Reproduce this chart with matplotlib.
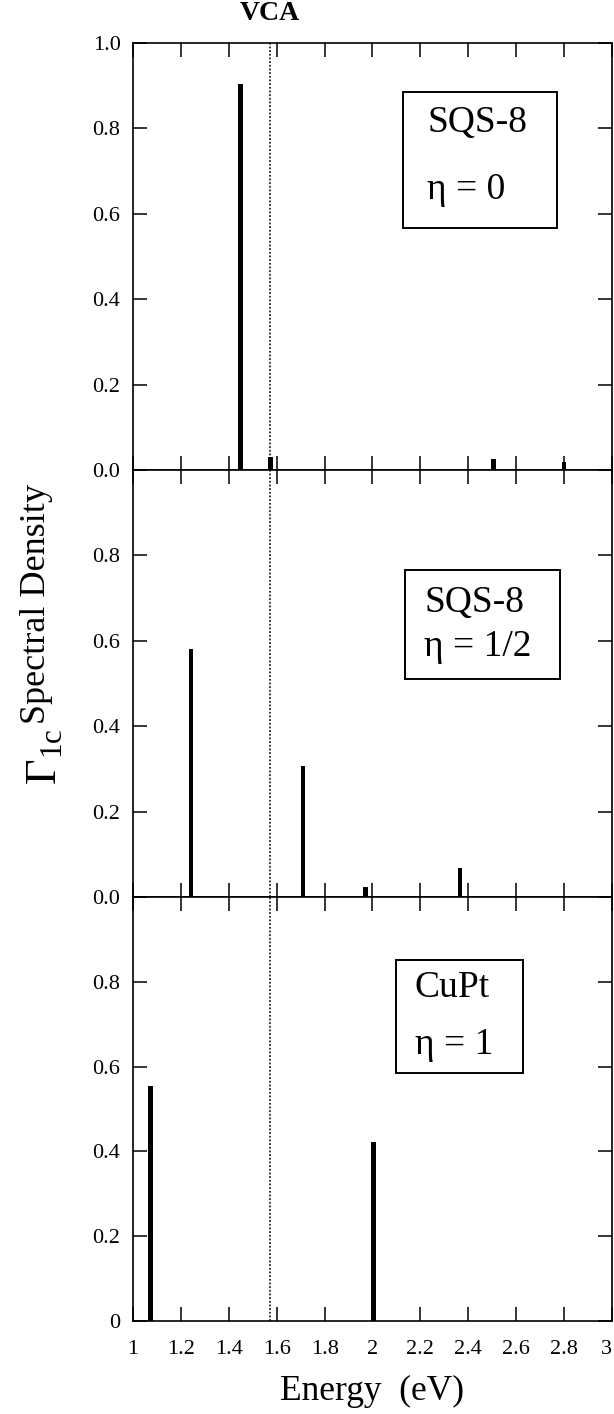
import matplotlib
matplotlib.use("Agg")
import matplotlib.pyplot as plt
from matplotlib.patches import Rectangle
from matplotlib.ticker import FixedLocator, FixedFormatter

plt.rcParams["font.family"] = ["Liberation Serif", "DejaVu Serif"]
plt.rcParams["mathtext.fontset"] = "custom"
plt.rcParams["mathtext.rm"] = "Liberation Serif"
plt.rcParams["mathtext.it"] = "Liberation Serif:italic"

# spectral peaks: energy (eV) and Gamma_1c weight, one set per panel
e_eta0 = [1.45, 1.575, 2.505, 2.80]
w_eta0 = [0.905, 0.030, 0.025, 0.018]
e_eta_half = [1.243, 1.709, 1.971, 2.366]
w_eta_half = [0.580, 0.307, 0.023, 0.068]
e_cupt = [1.073, 2.005]
w_cupt = [0.555, 0.422]
vca_energy = 1.57

panel_names = ["SQS-8", "SQS-8", "CuPt"]
panel_eta = ["η = 0", "η = 1/2", "η = 1"]

x_ticks = [1, 1.2, 1.4, 1.6, 1.8, 2, 2.2, 2.4, 2.6, 2.8, 3]
x_labels = ["1", "1.2", "1.4", "1.6", "1.8", "2", "2.2", "2.4", "2.6", "2.8", "3"]
y_ticks = [0, 0.2, 0.4, 0.6, 0.8, 1.0]
y_labels_top = ["0.0", "0.2", "0.4", "0.6", "0.8", "1.0"]
y_labels_mid = ["0.0", "0.2", "0.4", "0.6", "0.8", ""]
y_labels_bot = ["0", "0.2", "0.4", "0.6", "0.8", ""]

fig = plt.figure(figsize=(6.14, 14.14), dpi=100)
L, W = 0.2166, 0.7801
rects = [(L, 0.6676, W, 0.3020), (L, 0.3656, W, 0.3020), (L, 0.0658, W, 0.2998)]
# box frame (x0, y0, x1, y1) and text rows, axes fractions
boxes = [(0.564, 0.567, 0.885, 0.885), (0.568, 0.510, 0.891, 0.766), (0.550, 0.585, 0.815, 0.851)]
text_x = [0.614, 0.608, 0.588]
text_y = [(0.814, 0.656), (0.689, 0.586), (0.785, 0.651)]

energies = [e_eta0, e_eta_half, e_cupt]
weights = [w_eta0, w_eta_half, w_cupt]
ylabs = [y_labels_top, y_labels_mid, y_labels_bot]

axes = []
for i in range(3):
    ax = fig.add_axes(rects[i], sharex=axes[0] if axes else None)
    axes.append(ax)
    ax.bar(energies[i], weights[i], width=0.019, color="black", edgecolor="none", zorder=3)
    ax.axvline(vca_energy, color="black", lw=1.1, ls=(0, (1.2, 1.2)), zorder=2)
    ax.set_xlim(1, 3)
    ax.set_ylim(0, 1.0)
    ax.xaxis.set_major_locator(FixedLocator(x_ticks))
    ax.yaxis.set_major_locator(FixedLocator(y_ticks))
    ax.yaxis.set_major_formatter(FixedFormatter(ylabs[i]))
    ax.tick_params(direction="in", length=10, width=1.1, top=True, right=True,
                   labelsize=16, pad=9)
    for s in ax.spines.values():
        s.set_linewidth(1.2)
    if i < 2:
        ax.tick_params(labelbottom=False)
    else:
        ax.xaxis.set_major_formatter(FixedFormatter(x_labels))
        ax.tick_params(axis="x", pad=14)
        ax.set_xlabel("Energy  (eV)", fontsize=25.5, labelpad=11)

    x0, y0, x1, y1 = boxes[i]
    ax.add_patch(Rectangle((x0, y0), x1 - x0, y1 - y0, transform=ax.transAxes,
                           fill=False, ec="black", lw=1.4, zorder=4))
    ax.text(text_x[i], text_y[i][0], panel_names[i], transform=ax.transAxes,
            fontsize=27, ha="left", va="center", zorder=5)
    ax.text(text_x[i], text_y[i][1], panel_eta[i], transform=ax.transAxes,
            fontsize=27, ha="left", va="center", zorder=5)

# last x label sits at the right edge of the page
fig.canvas.draw()
axes[2].get_xticklabels()[-1].set_ha("right")

# VCA label above the dotted line
axes[0].annotate("VCA", xy=(vca_energy, 1.0), xycoords="data",
                 xytext=(0, 12), textcoords="offset points",
                 ha="center", va="bottom", fontsize=20, fontweight="bold")

# y label: Gamma_1c  Spectral Density
H = 1414.0
fig.text(56 / 614, 1 - 785 / H, r"$\Gamma_{\mathrm{1c}}$", rotation=90, rotation_mode="anchor",
         ha="left", va="baseline", fontsize=32)
fig.text(45 / 614, 1 - 724 / H, "Spectral Density", rotation=90, rotation_mode="anchor",
         ha="left", va="baseline", fontsize=26)

fig.savefig("out.png", dpi=100, facecolor="white")
